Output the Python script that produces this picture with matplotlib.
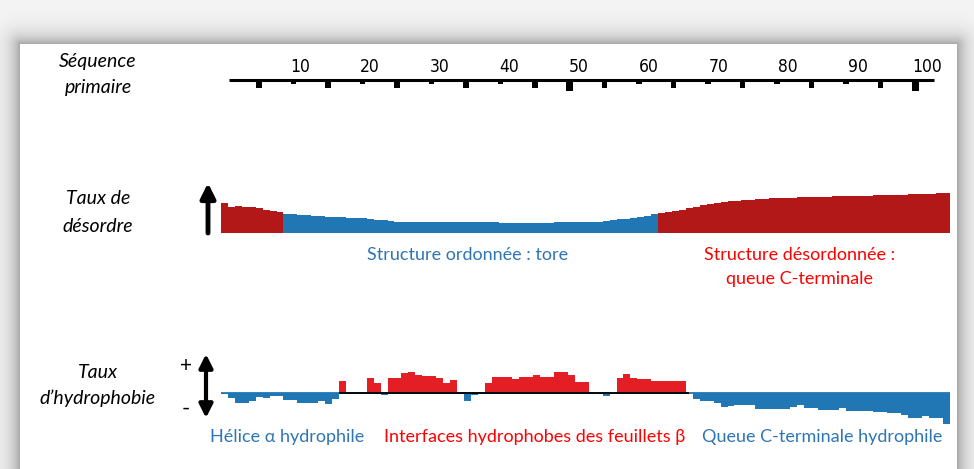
import numpy as np
import matplotlib
matplotlib.use("Agg")
import matplotlib.pyplot as plt

# figure size in pixels (dpi 100)
W, H = 974, 469

# primary sequence ruler
RULER_TICKS = list(range(5, 101, 5))
RULER_LABELS = list(range(10, 101, 10))

# disorder level per residue (0..104)
DISORDER = [30, 26, 27, 26, 26, 25, 23, 22, 20.5,
            19, 18.5, 18, 17.5, 17, 16.5, 16, 15.8, 15.5, 15.2, 15, 14.5, 14, 13, 12.5, 12, 11.3, 11,
            11, 11, 11, 11, 11, 11, 11, 11, 11, 11, 11, 11,
            10.5, 10.3, 10.2, 10, 10, 10, 10.2, 10.3, 10.3, 10.5,
            10.5, 10.6, 10.7, 10.8, 10.9, 11, 11.5, 12.5, 13.5, 14, 15, 16, 17, 18.5,
            19.5, 20.5, 21.5, 23, 24.5, 26, 27.5, 28.5, 29.5, 30.5, 31.5, 32, 32.5, 33, 33.5, 34, 34.5, 35,
            35.2, 35.4, 35.6, 35.8, 36, 36.2, 36.4, 36.6, 36.8, 37, 37, 37.2, 37.4, 37.6, 37.8,
            38, 38.2, 38.4, 38.6, 38.8, 39, 39.2, 39.5, 40]
ORDERED = (9, 63)  # residues [9, 63) are the ordered "tore" region

# hydrophobicity per residue (0..104)
HYDRO = [-1, -5, -10, -10, -8, -4, -5, -3, -3, -7,
         -7, -10, -10, -10, -8, -11, -6, 12, -0.5, -0.5,
         -0.5, 15, 10, -2, 15, 15, 20, 21, 18, 17,
         17, 15, 10, 13, -1, -8, -2, -0.5, 10, 16,
         16, 16, 14, 16, 16, 18, 16, 16, 21, 21,
         18, 11, 11, 0, -0.5, -3, 0, 15, 19, 15,
         14, 14, 11.7, 11.7, 12, 12, 12, 0, -6, -8,
         -8, -10, -14, -13, -12, -11.5, -11.5, -16, -16, -16,
         -16, -16, -14, -12, -15, -15, -17, -17, -17, -15,
         -18, -18, -18, -18, -19, -19, -20, -20, -22, -25,
         -25, -23, -25, -25, -31]
BETA_ZONE = (17, 67.5)  # black baseline under the beta interfaces

BLUE = "#2077b4"
DARKRED = "#b31818"
RED = "#e31e24"
TXT_BLUE = "#2e75b6"
TXT_RED = "#ff0000"
FONT = ["Lato", "DejaVu Sans"]


def box(x0, y0, x1, y1):
    """pixel box (top-left origin) -> figure fraction rect"""
    return [x0 / W, 1 - y1 / H, (x1 - x0) / W, (y1 - y0) / H]


def ftext(x, y, s, **kw):
    kw.setdefault("family", FONT)
    fig.text(x / W, 1 - y / H, s, ha="center", va="center", **kw)


def farrow(x, y0, y1, style, lw, ms):
    fig.add_artist(matplotlib.patches.FancyArrowPatch(
        (x / W, 1 - y0 / H), (x / W, 1 - y1 / H), transform=fig.transFigure,
        arrowstyle=style, lw=lw, mutation_scale=ms, color="black", shrinkA=0, shrinkB=0))


def step_fill(ax, x0, vals, color):
    """filled step profile, one unit wide per value, starting at x0"""
    edges = np.arange(x0, x0 + len(vals) + 1)
    ax.fill_between(edges, np.r_[vals, vals[-1]], step="post", color=color, lw=0)


fig = plt.figure(figsize=(W / 100, H / 100), dpi=100)

# background with shadowed white panel
bg_ax = fig.add_axes([0, 0, 1, 1])
yy, xx = np.mgrid[0:H, 0:W]
dx = np.maximum(np.maximum(20 - xx, xx - 956), 0)
dy = np.maximum(44 - yy, 0)
d = np.hypot(dx, dy)
bg = np.where(d > 0, 0.96 - 0.32 * np.exp(-d / 10.0), 1.0)
bg_ax.imshow(bg, cmap="gray", vmin=0, vmax=1, aspect="auto", interpolation="bilinear")
bg_ax.axis("off")

# ruler
ax_r = fig.add_axes(box(221, 55, 951, 95))
ax_r.set_xlim(-0.5, 105.2)
ax_r.set_ylim(-15, 25)
ax_r.axis("off")
ax_r.hlines(0, 0.6, 102.7, color="black", lw=2.2)
for t in RULER_TICKS:
    if t % 50 == 0:
        depth, wd = 11, 1.0
    elif t % 10 == 0:
        depth, wd = 4, 0.8
    else:
        depth, wd = 8, 0.8
    ax_r.bar(t, -depth, bottom=0, width=wd, color="black", lw=0)
for lab in RULER_LABELS:
    ax_r.text(lab * 1.01 + 0.8, 13, str(lab), ha="center", va="center", fontsize=12.5,
              family="DejaVu Sans", fontstretch="condensed")

# disorder
ax_d = fig.add_axes(box(221, 185, 951, 233))
a, b = ORDERED
step_fill(ax_d, 0, DISORDER[:a], DARKRED)
step_fill(ax_d, a, DISORDER[a:b], BLUE)
step_fill(ax_d, b, DISORDER[b:], DARKRED)
ax_d.set_xlim(0, 105.2)
ax_d.set_ylim(0, 48)
ax_d.axis("off")

# hydrophobicity
ax_h = fig.add_axes(box(221, 365, 951, 430))
hv = np.array(HYDRO, dtype=float)
step_fill(ax_h, 0, np.maximum(hv, 0), RED)
step_fill(ax_h, 0, np.minimum(hv, 0), BLUE)
ax_h.hlines(0, 0, len(hv), color=BLUE, lw=1.3)
ax_h.hlines(0, *BETA_ZONE, color="black", lw=1.3, zorder=3)
ax_h.set_xlim(0, 105.2)
ax_h.set_ylim(-37, 28)
ax_h.axis("off")

# left labels
for s, y in [("Séquence", 62), ("primaire", 87), ("Taux de", 199), ("désordre", 226),
             ("Taux", 373), ("d’hydrophobie", 398)]:
    ftext(98, y, s, fontsize=14, style="italic")

# arrows and signs
farrow(208, 233, 183, "-|>", 3.5, 22)
farrow(206, 418, 354, "<|-|>", 3.0, 20)
ftext(186, 366, "+", fontsize=15)
ftext(186, 409, "-", fontsize=16)

# region captions
ftext(468, 255, "Structure ordonnée : tore", fontsize=13, color=TXT_BLUE)
ftext(800, 255, "Structure désordonnée :", fontsize=13, color=TXT_RED)
ftext(800, 279, "queue C-terminale", fontsize=13, color=TXT_RED)
ftext(287, 437, "Hélice α hydrophile", fontsize=13, color=TXT_BLUE)
ftext(535, 437, "Interfaces hydrophobes des feuillets β", fontsize=13, color=TXT_RED)
ftext(822, 437, "Queue C-terminale hydrophile", fontsize=13, color=TXT_BLUE)

fig.savefig("out.png", dpi=100)
